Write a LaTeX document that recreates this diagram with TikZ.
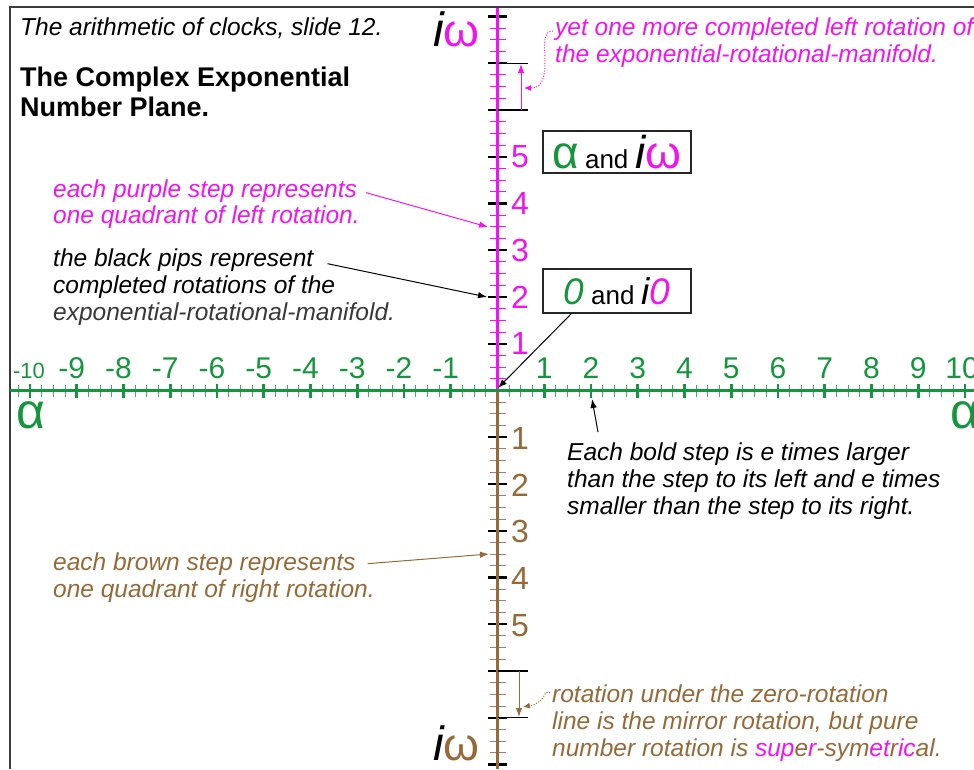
\documentclass[tikz,border=0pt]{standalone}
\usepackage{fontspec}
\setmainfont{Liberation Sans}
\usetikzlibrary{arrows.meta}
\definecolor{grn}{RGB}{20,150,60}
\definecolor{lgrn}{RGB}{70,172,100}
\definecolor{mag}{RGB}{240,20,240}
\definecolor{brn}{RGB}{150,105,55}
\definecolor{lbrn}{RGB}{165,125,115}
\definecolor{frm}{RGB}{60,60,60}
\begin{document}
\begin{tikzpicture}[x=1pt,y=-1pt,
  lbl/.style={inner sep=0, anchor=base west, font=\fontsize{24.5}{24.5}\selectfont\itshape},
  hnum/.style={inner sep=0, anchor=base, text=grn, font=\fontsize{30}{30}\selectfont},
  vnum/.style={inner sep=0, anchor=base west, font=\fontsize{32}{32}\selectfont},
  arr/.style={-{Latex[length=9pt,width=6.5pt]}, line width=1pt},
  dotarr/.style={-{Latex[length=7pt,width=6pt]}, line width=1pt, dash pattern=on 1pt off 1.6pt},
  hmaj/.style={grn, line width=2.6pt},
  hmin/.style={lgrn, line width=1pt},
  pip/.style={black, line width=2.4pt},
  vminM/.style={mag, line width=1.1pt},
  vminB/.style={lbrn, line width=1.1pt},
  boxn/.style={draw=black!85, line width=1.2pt, fill=white, inner sep=0, minimum width=148pt},
  brk/.style={black, line width=1.1pt}
]
\useasboundingbox (0,0) rectangle (974,769);
% frame
\draw[frm, line width=1.8pt] (10,769) -- (10,7) -- (974,7);

% vertical ticks
\foreach \k in {1,...,32} {
  \pgfmathtruncatemacro\r{mod(\k,4)}
  \ifnum\r=0
    \draw[pip] (488,{390.5-11.6875*\k}) -- ++(19,0);
    \draw[pip] (488,{390.5+11.6875*\k}) -- ++(19,0);
  \else
    \draw[vminM] (489.5,{390.5-11.6875*\k}) -- ++(16,0);
    \draw[vminB] (489.5,{390.5+11.6875*\k}) -- ++(16,0);
  \fi
}
% vertical axis
\draw[mag, line width=2.2pt] (497.5,8) -- (497.5,390.5);
\draw[brn, line width=2.2pt] (497.5,390.5) -- (497.5,769);

% horizontal ticks
\foreach \k in {-41,...,41} {
  \pgfmathtruncatemacro\r{mod(abs(\k),4)}
  \ifnum\k=0 \else
  \ifnum\r=0
    \draw[hmaj] ({497.5+11.6875*\k},384) -- ++(0,14);
  \else
    \draw[hmin] ({497.5+11.6875*\k},385) -- ++(0,12);
  \fi\fi
}
% horizontal axis
\draw[grn, line width=2.2pt] (10,390.5) -- (974,390.5);

% horizontal labels
\foreach \n in {1,...,9} {
  \node[hnum] (hp\n) at ({497.5+46.75*\n},378) {\n};
  \node[hnum] (hm\n) at ({497.5-46.75*\n},378) {\llap{-}\n};
}
\node[hnum, font=\fontsize{22}{22}\selectfont] (hm10) at (29,378) {-10};
\node[hnum] (hp10) at (962,378) {10};
\node[inner sep=0, anchor=base west, text=grn, font=\fontsize{50}{50}\selectfont] (alL) at (16,428) {α};
\node[inner sep=0, anchor=base west, text=grn, font=\fontsize{50}{50}\selectfont] (alR) at (950,428) {α};

% vertical labels
\foreach \n in {1,...,5} {
  \node[vnum, text=mag] (vp\n) at (511,{390.5-46.75*\n+11}) {\n};
  \node[vnum, text=brn] (vb\n) at (511,{390.5+46.75*\n+12}) {\n};
}

% i omega labels
\node[inner sep=0, anchor=base west] (iwT) at (433,46) {\fontsize{48}{48}\selectfont\itshape i\upshape\fontsize{46}{46}\selectfont\textcolor{mag}{ω}};
\node[inner sep=0, anchor=base west] (iwB) at (433,760) {\fontsize{48}{48}\selectfont\itshape i\upshape\fontsize{46}{46}\selectfont\textcolor{brn}{ω}};

% brackets
\draw[brk] (497.5,63.25) -- (528,63.25);
\draw[brk] (497.5,110) -- (528,110);
\coordinate (ma) at (521,110);
\coordinate (mb) at (521,64);
\draw[arr, mag] (ma) -- (mb);
\draw[brk] (497.5,671) -- (528,671);
\draw[brk] (497.5,717.5) -- (528,717.5);
\coordinate (ba) at (519,671);
\coordinate (bb) at (519,717);
\draw[arr, brn] (ba) -- (bb);

% title texts
\node[lbl] (t1) at (20,35) {The arithmetic of clocks, slide 12.};
\node[lbl, font=\fontsize{27}{27}\selectfont\bfseries] (t2) at (20,86) {The Complex Exponential};
\node[lbl, font=\fontsize{27}{27}\selectfont\bfseries] (t3) at (20,116) {Number Plane.};

% top right
\node[lbl, text=mag] (y1) at (555,35) {yet one more completed left rotation of};
\node[lbl, text=mag] (y2) at (555,62) {the exponential-rotational-manifold.};
\coordinate (mc) at (524,88);
\draw[dotarr, mag] ([xshift=-2pt,yshift=4pt]y1.base west) .. controls (542,31) and (545,45) .. (545,62) .. controls (545,82) and (540,88) .. (mc);

% left annotations
\node[lbl, text=mag] (p1) at (53,197) {each purple step represents};
\node[lbl, text=mag] (p2) at (53,223) {one quadrant of left rotation.};
\coordinate (pa) at (488,227);
\draw[arr, mag] ([xshift=9pt,yshift=-2pt]p1.east) -- (pa);

\node[lbl] (b1) at (53,266) {the black pips represent};
\node[lbl] (b2) at (53,293) {completed rotations of the};
\node[lbl, text=black!78] (b3) at (53,320) {exponential-rotational-manifold.};
\coordinate (pb) at (487,297);
\draw[arr, black] ([xshift=14pt,yshift=-4pt]b1.east) -- (pb);

\node[lbl, text=brn] (w1) at (53,570) {each brown step represents};
\node[lbl, text=brn] (w2) at (53,597) {one quadrant of right rotation.};
\coordinate (pw) at (489,554);
\draw[arr, brn] ([xshift=12pt]w1.east) -- (pw);

% boxes
\node[boxn, minimum height=42pt] (boxA) at (617,152) {\textcolor{grn}{\fontsize{46}{46}\selectfont α}\hspace{6pt}{\fontsize{26}{26}\selectfont and}\hspace{7pt}{\fontsize{46}{46}\selectfont\itshape i\upshape\textcolor{mag}{ω}}};
\node[boxn, minimum height=44pt] (boxZ) at (617,291) {{\fontsize{37}{37}\selectfont\itshape\textcolor{grn}{0}}\hspace{7pt}{\fontsize{26}{26}\selectfont and}\hspace{7pt}{\fontsize{37}{37}\selectfont\itshape i\textcolor{mag}{0}}};
\coordinate (orig) at (498,388);
\draw[arr, black] ([xshift=29pt]boxZ.south west) -- (orig);

% each bold step
\node[lbl] (e1) at (567,460) {Each bold step is e times larger};
\node[lbl] (e2) at (567,487) {than the step to its left and e times};
\node[lbl] (e3) at (567,514) {smaller than the step to its right.};
\coordinate (h2) at (592,399);
\draw[arr, black] ([xshift=31pt,yshift=10pt]e1.north west) -- (h2);

% bottom right
\node[lbl, text=brn] (r1) at (552,702) {rotation under the zero-rotation};
\node[lbl, text=brn] (r2) at (552,729) {line is the mirror rotation, but pure};
\node[lbl, text=brn] (r3) at (552,756) {number rotation is \textcolor{mag}{sup}e\textcolor{mag}{r}-sym\textcolor{mag}{et}r\textcolor{mag}{ic}al.};
\coordinate (bc) at (523,707);
\draw[dotarr, brn] ([xshift=-2pt,yshift=9pt]r1.base west) .. controls (542,689) and (548,702) .. (bc);
\end{tikzpicture}
\end{document}
